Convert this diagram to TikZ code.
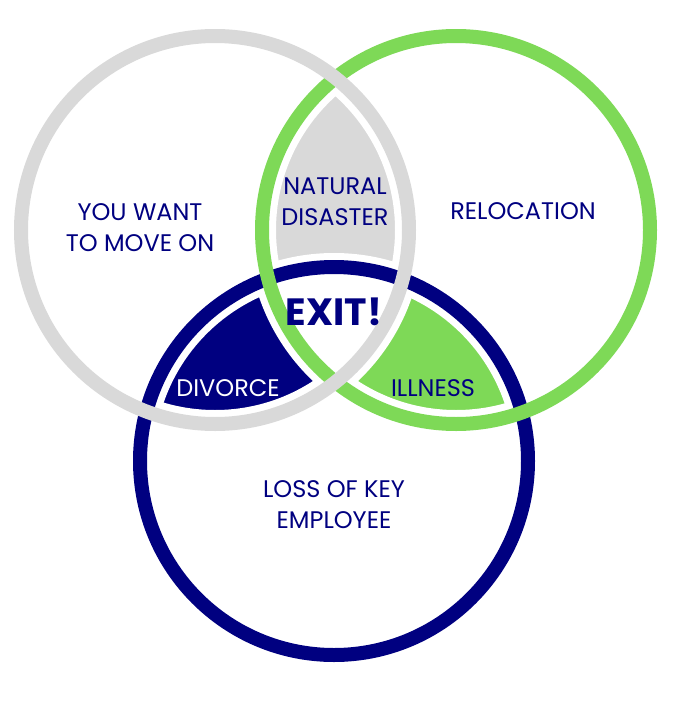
\documentclass[tikz,border=0pt]{standalone}
\usepackage{fontspec}
\setmainfont{Poppins}
\usetikzlibrary{positioning}
\definecolor{ringgray}{HTML}{D9D9D9}
\definecolor{ringgreen}{HTML}{7ED957}
\definecolor{ringnavy}{HTML}{000080}
\newcommand{\ringr}{194}
\tikzset{
    %Define style for the rings
    ring/.style={
           line width=14pt},
    halo/.style={
           draw=white,
           line width=28pt},
    %Define style for the texts
    venntext/.style={
           align=center,
           text=ringnavy,
           inner sep=0pt,
           font=\fontsize{24}{31}\selectfont},
    exittext/.style={
           text=ringnavy,
           inner sep=0pt,
           font=\fontsize{38}{38}\selectfont\bfseries}
}
\begin{document}
\begin{tikzpicture}[x=1pt,y=-1pt]
\useasboundingbox (0,0) rectangle (698,707);
 %centres
\coordinate (move) at (215,230);
\coordinate (reloc) at (456,230);
\coordinate (loss) at (334,461);
 %filled parts
\begin{scope}
  \clip (move) circle[radius=\ringr];
  \clip (loss) circle[radius=\ringr];
  \fill[ringnavy] (0,0) rectangle (698,707);
\end{scope}
\begin{scope}
  \clip (reloc) circle[radius=\ringr];
  \clip (loss) circle[radius=\ringr];
  \fill[ringgreen] (0,0) rectangle (698,707);
\end{scope}
\begin{scope}
  \clip (move) circle[radius=\ringr];
  \clip (reloc) circle[radius=\ringr];
  \fill[ringgray] (0,0) rectangle (698,707);
  \clip (loss) circle[radius=\ringr];
  \fill[white] (0,0) rectangle (698,707);
\end{scope}
 %rings
\foreach \c in {loss,reloc,move}
  \draw[halo] (\c) circle[radius=\ringr];
\draw[ring, ringnavy] (loss) circle[radius=\ringr];
\draw[ring, ringgreen] (reloc) circle[radius=\ringr];
\draw[ring, ringgray] (move) circle[radius=\ringr];
 %texts
\node[venntext] (want) at (140,228) {YOU WANT\\TO MOVE ON};
\node[venntext] (relocation) at (523,211) {RELOCATION};
\node[venntext] (disaster) at (335,202) {NATURAL\\DISASTER};
\node[venntext] (employee) at (334,505) {LOSS OF KEY\\EMPLOYEE};
\node[venntext, text=white] (divorce) at (228,388) {DIVORCE};
\node[venntext] (illness) at (433,388) {ILLNESS};
\node[exittext] (exit) at (334,312) {EXIT!};
\end{tikzpicture}
\end{document}
